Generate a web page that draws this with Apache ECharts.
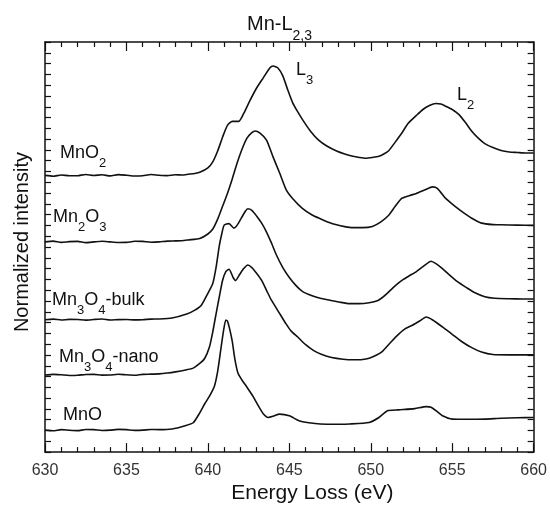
<!DOCTYPE html>
<html>
<head>
<meta charset="utf-8">
<script src="https://cdn.jsdelivr.net/npm/echarts@6/dist/echarts.min.js"></script>
<style>
  html, body { margin: 0; padding: 0; background: #fff; }
  #chart { width: 550px; height: 509px; }
</style>
</head>
<body>
<div id="chart"></div>
<script>
// energy loss (eV) vs normalized intensity (arb. units, spectra stacked with offsets)
const energyMin = 630;
const energyMax = 660;
const energyStep = 5;
const intensityMax = 415;
const intensityTicks = 38;

const seriesNames = ['MnO2', 'Mn2O3', 'Mn3O4-bulk', 'Mn3O4-nano', 'MnO'];

const mnO2 = [
  [630, 280.0], [630.5, 279.2], [631, 280.4], [631.5, 279.6], [632, 279.7], [632.5, 280.9],
  [633, 279.9], [633.5, 280.6], [634, 279.5], [634.5, 280.8], [635, 280.2], [635.5, 279.4],
  [636, 279.7], [636.5, 280.9], [637, 280.2], [637.5, 279.8], [638, 280.6], [638.4, 280.4],
  [638.8, 281.2], [639.2, 282.0], [639.5, 283.2], [640, 287.7],
  [640.3, 293.7], [640.6, 304.7], [640.9, 318.7], [641.2, 330.7], [641.5, 334.7], [641.9, 334.7],
  [642.2, 342.7], [642.55, 354.7], [643, 368.7], [643.4, 378.7], [643.8, 388.7], [644.0, 390.7],
  [644.3, 388.7], [644.6, 380.7], [644.9, 366.7], [645.2, 353.7], [645.5, 344.7], [645.8, 336.7],
  [646.3, 324.7], [646.8, 315.7], [647.3, 309.7], [647.9, 304.7], [648.4, 301.7], [648.9, 299.4],
  [649.3, 298.2], [649.7, 297.4], [650.1, 298.2], [650.5, 299.4], [650.8, 301.7], [651.1, 305.0],
  [651.5, 313.7], [651.9, 322.7], [652.3, 332.7], [652.8, 340.7], [653.2, 346.7], [653.6, 350.7],
  [654.0, 352.7], [654.3, 352.2], [654.6, 350.0], [655.0, 346.7], [655.4, 341.7], [655.8, 333.7],
  [656.2, 324.7], [656.6, 317.7], [657.0, 312.2], [657.5, 308.2], [658.0, 305.2], [658.5, 303.7],
  [659, 303.2], [659.5, 302.7], [660, 302.7]
];

const mn2O3 = [
  [630, 212.7], [630.5, 213.5], [631, 212.2], [631.5, 213.0], [632, 213.2], [632.5, 212.0],
  [633, 212.7], [633.5, 213.4], [634, 212.7], [634.5, 212.1], [635, 212.2], [635.5, 213.3],
  [636, 213.2], [636.5, 212.4], [637, 212.7], [637.5, 213.5], [638, 213.7], [638.4, 213.9],
  [638.8, 214.7], [639.5, 216.2], [640, 220.7],
  [640.3, 225.7], [640.6, 235.7], [640.9, 248.7], [641.2, 261.7], [641.5, 276.7], [641.8, 292.7],
  [642.1, 306.7], [642.4, 317.7], [642.7, 323.2], [642.9, 325.0], [643.2, 322.7], [643.6, 315.7],
  [644.0, 298.7], [644.4, 282.7], [644.8, 265.7], [645.2, 256.7], [645.8, 246.7], [646.4, 240.0],
  [646.9, 236.2], [647.4, 232.7], [647.9, 230.0], [648.4, 228.2], [648.9, 227.2], [649.5, 227.2],
  [650.1, 228.4], [650.6, 232.7], [651.1, 239.7], [651.5, 248.7], [651.9, 256.7], [652.4, 259.7],
  [652.8, 261.7], [653.3, 265.2], [653.8, 268.4], [654.1, 266.7], [654.6, 256.7], [655.1, 249.7],
  [655.6, 243.4], [656.2, 236.7], [656.8, 231.7], [657.5, 230.2], [658, 230.0], [659, 229.7],
  [660, 229.4]
];

const mn3O4Bulk = [
  [630, 134.0], [630.5, 134.6], [631, 133.7], [631.5, 134.3], [632, 134.2], [632.5, 133.6],
  [633, 134.2], [633.5, 134.7], [634, 133.7], [634.5, 134.1], [635, 134.2], [635.5, 133.8],
  [636, 134.0], [636.5, 134.6], [637, 134.7], [637.8, 135.7], [638.7, 139.7], [639.2, 143.7],
  [639.6, 148.7],
  [640.0, 160.7], [640.3, 170.7], [640.5, 186.7], [640.7, 208.7], [640.85, 220.7], [641.0, 229.7],
  [641.3, 231.2], [641.6, 226.7], [641.8, 229.7], [642.05, 236.7], [642.3, 243.7], [642.45, 246.2],
  [642.7, 244.7], [643.0, 238.7], [643.3, 231.7], [643.6, 222.7], [643.9, 211.7], [644.2, 199.7],
  [644.6, 186.7], [645.0, 176.7], [645.4, 168.7], [645.8, 162.7], [646.4, 158.2], [646.9, 155.7],
  [647.5, 153.7], [648.1, 151.7], [648.7, 150.2], [649.3, 150.2], [649.9, 151.2], [650.4, 153.2],
  [650.8, 157.7], [651.2, 163.7], [651.6, 169.7], [652.0, 174.7], [652.4, 178.7], [652.8, 182.7],
  [653.2, 187.7], [653.7, 193.2], [654.0, 190.7], [654.4, 185.7], [654.8, 179.7], [655.3, 172.7],
  [655.9, 166.2], [656.4, 161.2], [657.0, 157.2], [657.6, 155.7], [658.5, 155.2], [659.3, 155.0],
  [660, 155.0]
];

const mn3O4Nano = [
  [630, 78.0], [630.5, 78.7], [631, 78.2], [631.5, 77.5], [632, 77.7], [632.5, 78.6],
  [633, 78.7], [633.5, 77.9], [634, 78.0], [634.5, 78.8], [635, 78.2], [635.5, 77.8],
  [636, 78.7], [636.5, 78.9], [637, 79.2], [637.5, 80.0], [638, 81.2], [638.7, 83.4],
  [639.1, 85.0], [639.5, 89.7],
  [639.8, 94.7], [640.1, 106.7], [640.3, 121.7], [640.5, 139.7], [640.72, 158.7], [640.9, 173.7],
  [641.1, 182.7], [641.3, 185.0], [641.55, 176.7], [641.7, 173.7], [641.95, 179.7], [642.2, 185.7],
  [642.45, 189.4], [642.7, 186.7], [643.0, 180.7], [643.3, 173.7], [643.6, 163.7], [643.9, 153.7],
  [644.2, 145.7], [644.5, 137.7], [644.8, 129.7], [645.1, 122.7], [645.5, 116.7], [646.0, 108.7],
  [646.5, 102.7], [647.0, 98.7], [647.6, 95.7], [648.3, 94.0], [648.9, 93.4], [649.5, 93.7],
  [649.9, 95.0], [650.3, 97.7], [650.7, 101.7], [651.2, 110.7], [651.7, 119.2], [652.1, 124.7],
  [652.55, 128.4], [653.0, 132.7], [653.4, 136.7], [653.8, 133.7], [654.4, 126.7], [655.0, 119.2],
  [655.6, 111.7], [656.2, 105.7], [656.8, 101.2], [657.5, 98.7], [658.5, 98.4], [660, 98.4]
];

const mnO = [
  [630, 22.2], [630.5, 21.6], [631, 22.7], [631.5, 22.1], [632, 21.7], [632.5, 22.8],
  [633, 22.7], [633.5, 21.9], [634, 22.2], [634.5, 23.0], [635, 22.7], [635.5, 22.0],
  [636, 22.2], [636.5, 22.9], [637, 22.7], [637.8, 23.4], [638.6, 26.7], [639.1, 29.7],
  [639.5, 39.7],
  [639.8, 48.7], [640.1, 56.7], [640.4, 66.7], [640.6, 81.7], [640.8, 104.7], [640.95, 121.7],
  [641.1, 133.7], [641.2, 132.7], [641.35, 123.7], [641.5, 111.7], [641.65, 94.7], [641.85, 79.7],
  [642.1, 72.7], [642.4, 65.7], [642.8, 55.7], [643.1, 46.7], [643.4, 38.7], [643.7, 35.0],
  [644.0, 36.2], [644.4, 38.4], [645.0, 36.7], [645.6, 31.7], [646.2, 29.7], [646.9, 28.4],
  [648, 28.2], [648.7, 28.4], [649.9, 30.0], [650.5, 35.0], [651.0, 41.7], [651.7, 42.7],
  [652.7, 44.0], [653.4, 46.0], [653.7, 45.4], [654.1, 40.7], [654.4, 36.7], [655.0, 33.4],
  [656, 33.2], [657, 33.4], [658, 34.2], [659, 34.7], [660, 35.0]
];

const spectra = [mnO2, mn2O3, mn3O4Bulk, mn3O4Nano, mnO];

const FONT = "'Liberation Sans', Arial, Helvetica, sans-serif";
const INK = '#111';

const SUB_RICH = {
  m: { fontSize: 18, lineHeight: 20, verticalAlign: 'top', fontFamily: FONT, color: INK },
  s: { fontSize: 13, lineHeight: 14, verticalAlign: 'top', padding: [13, 0, 0, 0], fontFamily: FONT, color: INK },
};

function richLabel(text, left, top) {
  return {
    type: 'text',
    left,
    top,
    style: { text, rich: SUB_RICH, fill: INK },
  };
}

const frameAxis = {
  min: energyMin,
  max: energyMax,
  interval: energyStep,
  axisLine: { show: true, onZero: false, lineStyle: { color: INK, width: 1.5 } },
  axisTick: { show: true, inside: true, length: 9, lineStyle: { color: INK, width: 1.2 } },
  minorTick: { show: true, splitNumber: 5, length: 5, lineStyle: { color: INK, width: 1.2 } },
  splitLine: { show: false },
  minorSplitLine: { show: false },
};

const frameYAxis = {
  min: 0,
  max: intensityMax,
  interval: intensityMax / intensityTicks,
  axisLine: { show: true, onZero: false, lineStyle: { color: INK, width: 1.5 } },
  axisTick: { show: true, inside: true, length: 6, lineStyle: { color: INK, width: 1.2 } },
  axisLabel: { show: false },
  splitLine: { show: false },
};

const chart = echarts.init(document.getElementById('chart'));

chart.setOption({
  animation: false,
  backgroundColor: '#fff',
  title: {
    text: '{m|Mn-L}{s|2,3}',
    left: 242,
    top: 9,
    textStyle: {
      fontWeight: 'normal',
      rich: {
        m: { fontSize: 20, lineHeight: 22, fontWeight: 'normal', verticalAlign: 'top', fontFamily: FONT, color: INK },
        s: { fontSize: 14, lineHeight: 15, fontWeight: 'normal', verticalAlign: 'top', padding: [15, 0, 0, 0], fontFamily: FONT, color: INK },
      },
    },
  },
  grid: { left: 45, right: 15, top: 42, bottom: 52 },
  xAxis: [
    {
      ...frameAxis,
      type: 'value',
      position: 'bottom',
      name: 'Energy Loss (eV)',
      nameLocation: 'middle',
      nameGap: 28,
      nameTextStyle: { fontSize: 21, fontFamily: FONT, color: INK, padding: [0, 0, 0, 46] },
      axisLabel: { show: true, fontSize: 16, fontFamily: FONT, color: '#333', margin: 10 },
    },
    {
      ...frameAxis,
      type: 'value',
      position: 'top',
      axisLabel: { show: false },
    },
  ],
  yAxis: [
    {
      ...frameYAxis,
      type: 'value',
      position: 'left',
      name: 'Normalized intensity',
      nameLocation: 'middle',
      nameGap: 13,
      nameTextStyle: { fontSize: 20, fontFamily: FONT, color: INK, padding: [0, 0, 0, 10] },
    },
    {
      ...frameYAxis,
      type: 'value',
      position: 'right',
    },
  ],
  series: spectra.map((data, i) => ({
    name: seriesNames[i],
    type: 'line',
    data,
    xAxisIndex: 0,
    yAxisIndex: 0,
    showSymbol: false,
    smooth: 0.2,
    lineStyle: { color: INK, width: 1.6 },
  })),
  graphic: [
    richLabel('{m|MnO}{s|2}', 60, 144),
    richLabel('{m|Mn}{s|2}{m|O}{s|3}', 53, 208),
    richLabel('{m|Mn}{s|3}{m|O}{s|4}{m|-bulk}', 52, 291),
    richLabel('{m|Mn}{s|3}{m|O}{s|4}{m|-nano}', 59, 348),
    richLabel('{m|MnO}', 63, 406),
    richLabel('{m|L}{s|3}', 296, 61),
    richLabel('{m|L}{s|2}', 457, 86),
  ],
});
</script>
</body>
</html>
